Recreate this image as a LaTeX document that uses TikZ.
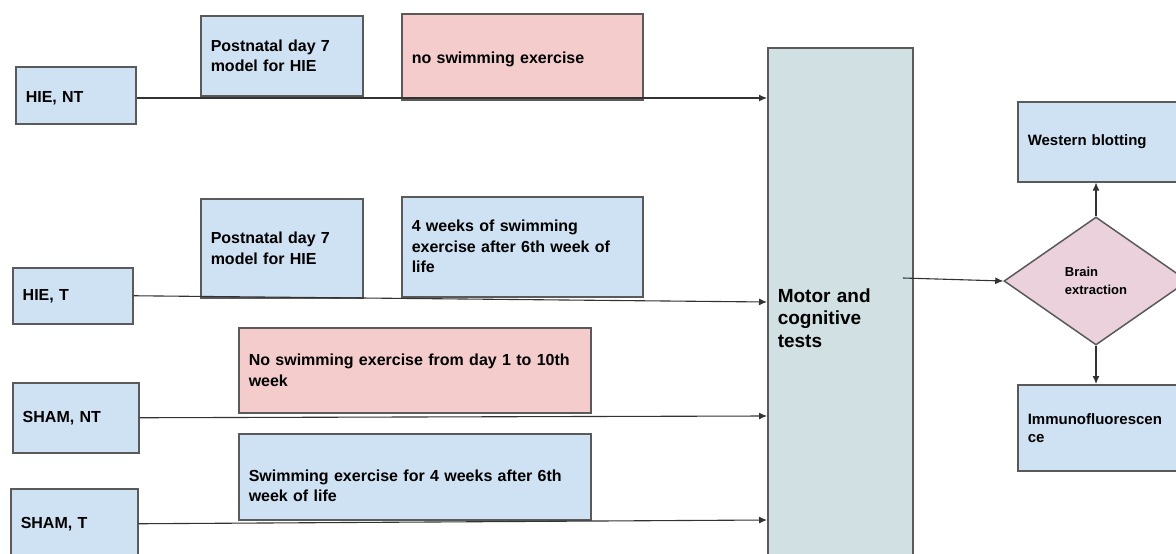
\documentclass[tikz,border=0pt]{standalone}
\usepackage{fontspec}
\setmainfont{Liberation Sans}
\usetikzlibrary{arrows.meta,shapes.geometric}
\definecolor{bluefill}{RGB}{207,226,243}
\definecolor{pinkfill}{RGB}{244,204,204}
\definecolor{testfill}{RGB}{208,224,227}
\definecolor{brainfill}{RGB}{234,209,220}
\definecolor{boxline}{RGB}{90,90,90}
\definecolor{wireline}{RGB}{50,50,50}
\begin{document}
\begin{tikzpicture}[x=1pt,y=-1pt,
blk/.style={draw=boxline,line width=1.5pt,fill=bluefill,anchor=north west,align=left,inner xsep=10pt,inner ysep=0pt,font=\bfseries\fontsize{16}{20.5}\selectfont},
sz/.code 2 args={\pgfmathsetmacro\tw{#1-20}\tikzset{minimum width=#1pt,minimum height=#2pt,text width=\tw pt}},
arr/.style={draw=wireline,line width=1.1pt,-{Latex[length=8pt,width=7pt]}}]
\useasboundingbox (0,0) rectangle (1176,554);
\clip (0,0) rectangle (1176,554);
\node[blk,sz={120}{57}] (HNT) at (15,66) {\rule{0pt}{17pt}HIE, NT};
\node[blk,sz={120}{56}] (HT) at (12,267) {HIE, T};
\node[blk,sz={126}{70}] (SNT) at (12,382) {SHAM, NT};
\node[blk,sz={127}{70}] (ST) at (10,488) {SHAM, T};
\node[blk,sz={162}{80}] (P1) at (200,15) {Postnatal day 7\\model for HIE};
\node[blk,sz={241}{86},fill=pinkfill] (N1) at (401,13) {\rule{0pt}{17pt}no swimming exercise};
\node[blk,sz={162}{99}] (P2) at (200,198) {Postnatal day 7\\model for HIE};
\node[blk,sz={241}{100}] (W4) at (401,196) {4 weeks of swimming\\exercise after 6th week of\\life};
\node[blk,sz={352}{85},fill=pinkfill] (N10) at (238,327) {No swimming exercise from day 1 to 10th\\week};
\node[blk,sz={352}{86}] (S4) at (238,433) {\rule{0pt}{30pt}Swimming exercise for 4 weeks after 6th\\week of life};
\node[blk,sz={145}{540},fill=testfill,font=\bfseries\fontsize{19}{22.5}\selectfont] (MC) at (767,47) {Motor and\\cognitive\\tests};
\node[blk,sz={180}{80},font=\bfseries\fontsize{15}{18}\selectfont] (WB) at (1017,101) {Western blotting};
\node[blk,sz={180}{86},font=\bfseries\fontsize{15}{18}\selectfont] (IF) at (1017,384) {Immunofluorescen\\ce};
\node[diamond,draw=boxline,line width=1.5pt,fill=brainfill,minimum width=184pt,minimum height=128pt,inner sep=0pt,align=left,font=\bfseries\fontsize{13}{18}\selectfont] (BE) at (1096,281) {Brain\\extraction};
\coordinate (m1) at (767,98);
\coordinate (m2) at (767,302);
\coordinate (m3) at (767,416);
\coordinate (m4) at (767,520);
\coordinate (mo) at (903,278);
\draw[arr] (HNT.east |- m1) -- (m1);
\draw[arr] (HT.east) -- (m2);
\draw[arr] (SNT.east) -- (m3);
\draw[arr] (ST.east) -- (m4);
\draw[arr] (mo) -- (BE.west);
\draw[arr] (BE.north) -- (BE.north |- WB.south);
\draw[arr] (BE.south) -- (BE.south |- IF.north);
\end{tikzpicture}
\end{document}
